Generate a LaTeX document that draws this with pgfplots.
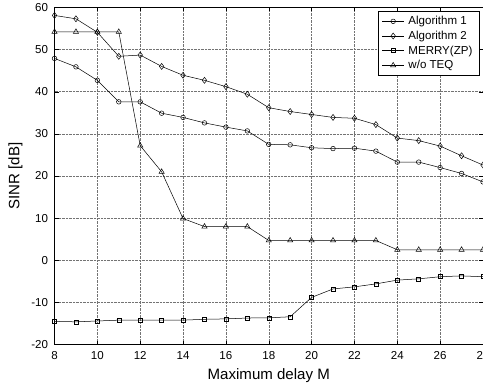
\documentclass[border=0pt]{standalone}
\usepackage{fontspec}
\setmainfont{Liberation Sans}
\usepackage{pgfplots}
\pgfplotsset{compat=1.18}
\begin{document}
\begin{tikzpicture}[trim axis right]
\begin{axis}[
  scale only axis, width=427pt, height=336pt,
  xmin=8, xmax=28, ymin=-20, ymax=60,
  xtick={8,10,...,28}, ytick={-20,-10,...,60},
  grid=major, grid style={densely dotted, black!55, line width=0.5pt},
  tick style={black, thin}, tick align=inside,
  major tick length=4pt,
  axis line style={black, line width=0.8pt},
  /pgf/number format/assume math mode=true,
  ticklabel style={font=\fontsize{11.5}{13}\selectfont},
  yticklabel style={xshift=-3pt},
  xticklabel style={yshift=-3pt},
  xlabel={Maximum delay M}, ylabel={SINR [dB]},
  label style={font=\fontsize{15}{18}\selectfont},
  xlabel style={yshift=-2pt},
  ylabel style={yshift=2pt},
  legend style={at={(0.993,0.99)}, anchor=north east,
    font=\fontsize{11.5}{13}\selectfont, draw=black, line width=1.2pt,
    inner xsep=3pt, inner ysep=3pt, row sep=0.8pt,
    nodes={inner xsep=4pt}},
  legend cell align=left,
  legend image code/.code={\draw[mark repeat=2, mark phase=2, #1, line width=0.5pt] plot coordinates {(0pt,0pt) (11pt,0pt) (22pt,0pt)};},
  every axis plot/.append style={black, line width=0.5pt, mark options={solid, fill=white, line width=0.5pt}},
]
\addplot[mark=o, mark size=2.3pt] coordinates {
(8,47.9) (9,45.9) (10,42.7) (11,37.6) (12,37.6) (13,34.9) (14,33.9) (15,32.6) (16,31.6) (17,30.7)
(18,27.5) (19,27.4) (20,26.7) (21,26.5) (22,26.6) (23,25.9) (24,23.3) (25,23.3) (26,22.0) (27,20.6) (28,18.6)};
\addlegendentry{Algorithm 1}
\addplot[mark=diamond, mark size=3pt] coordinates {
(8,58.1) (9,57.3) (10,54.1) (11,48.4) (12,48.7) (13,46.0) (14,43.9) (15,42.7) (16,41.2) (17,39.4)
(18,36.2) (19,35.3) (20,34.6) (21,33.9) (22,33.7) (23,32.2) (24,29.0) (25,28.4) (26,27.1) (27,24.8) (28,22.6)};
\addlegendentry{Algorithm 2}
\addplot[mark=square, mark size=2pt] coordinates {
(8,-14.5) (9,-14.6) (10,-14.4) (11,-14.2) (12,-14.2) (13,-14.2) (14,-14.2) (15,-14.0) (16,-13.9) (17,-13.7)
(18,-13.65) (19,-13.4) (20,-8.8) (21,-6.8) (22,-6.3) (23,-5.6) (24,-4.7) (25,-4.4) (26,-3.9) (27,-3.7) (28,-3.9)};
\addlegendentry{MERRY(ZP)}
\addplot[mark=triangle, mark size=3pt] coordinates {
(8,54.2) (9,54.2) (10,54.2) (11,54.2) (12,27.2) (13,21.0) (14,9.9) (15,8.0) (16,8.0) (17,8.0)
(18,4.7) (19,4.7) (20,4.7) (21,4.7) (22,4.7) (23,4.7) (24,2.5) (25,2.5) (26,2.5) (27,2.5) (28,2.5)};
\addlegendentry{w/o TEQ}
\draw[line width=1.5pt] (rel axis cs:0,1) -- (rel axis cs:0,0) -- (rel axis cs:1,0);
\end{axis}
\path ([xshift=-5pt]current bounding box.west);
\end{tikzpicture}
\end{document}
